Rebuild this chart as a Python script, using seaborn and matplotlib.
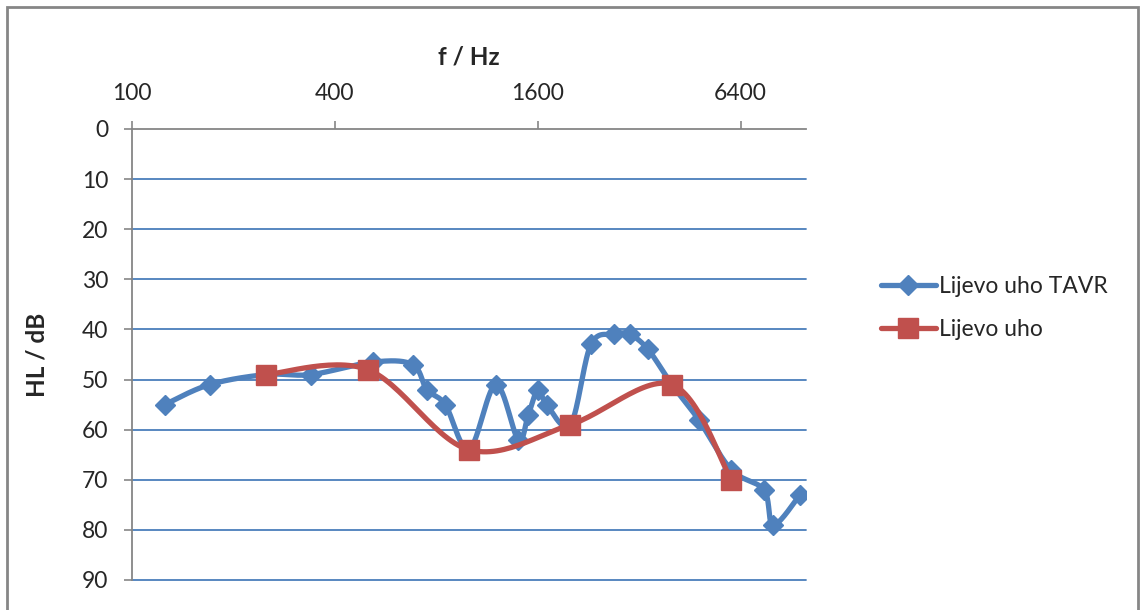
# Audiogram: left ear, TAVR vs. baseline
import numpy as np
import matplotlib
matplotlib.use('Agg')
import matplotlib.pyplot as plt
from matplotlib.lines import Line2D
from matplotlib.patches import Rectangle
import seaborn as sns

# Data
tavr_freq = [125, 170, 250, 340, 520, 680, 750, 850, 1000, 1200, 1400, 1500, 1600, 1700,
             2000, 2300, 2700, 3000, 3400, 4000, 4800, 6000, 7500, 8000, 9600]
tavr_hl = [55, 51, 49, 49, 46.5, 47, 52, 55, 64, 51, 62, 57, 52, 55,
           59, 43, 41, 41, 44, 51, 58, 68, 72, 79, 73]
base_freq = [250, 500, 1000, 2000, 4000, 6000]
base_hl = [49, 48, 64, 59, 51, 70]
x_ticks = [100, 400, 1600, 6400]
y_ticks = list(range(0, 100, 10))
series_names = ['Lijevo uho TAVR', 'Lijevo uho']

BLUE = '#4F81BD'
RED = '#C0504D'
GRID = '#4A7EBB'
GRAY = '#868686'

sns.set_style('white')
plt.rcParams['font.family'] = ['Lato', 'DejaVu Sans']


def smooth(freq, hl, n=30):
    # Excel-style smoothed line: Catmull-Rom bezier in screen-like units
    u = np.log2(np.asarray(freq, float) / 100) * 101.5
    v = np.asarray(hl, float) * 5.01
    pts = np.column_stack([u, v])
    out = []
    for i in range(len(pts) - 1):
        p0 = pts[max(i - 1, 0)]
        p1 = pts[i]
        p2 = pts[i + 1]
        p3 = pts[min(i + 2, len(pts) - 1)]
        c1 = p1 + (p2 - p0) / 6
        c2 = p2 - (p3 - p1) / 6
        t = np.linspace(0, 1, n)[:, None]
        seg = ((1 - t) ** 3) * p1 + 3 * ((1 - t) ** 2) * t * c1 + 3 * (1 - t) * t ** 2 * c2 + t ** 3 * p2
        out.append(seg if i == 0 else seg[1:])
    c = np.vstack(out)
    return 100 * 2 ** (c[:, 0] / 101.5), c[:, 1] / 5.01


fig = plt.figure(figsize=(11.41, 6.10), dpi=100)
ax = fig.add_axes([132 / 1141, 1 - 580 / 610, 674 / 1141, 451 / 610])

sx, sy = smooth(tavr_freq, tavr_hl)
sns.lineplot(x=sx, y=sy, sort=False, color=BLUE, lw=3.8, ax=ax, zorder=3)
ax.plot(tavr_freq, tavr_hl, ls='none', marker='D', ms=10, color=BLUE, zorder=4)

sx, sy = smooth(base_freq, base_hl)
sns.lineplot(x=sx, y=sy, sort=False, color=RED, lw=3.8, ax=ax, zorder=5)
ax.plot(base_freq, base_hl, ls='none', marker='s', ms=14, color=RED, zorder=6)

ax.set_xscale('log', base=2)
ax.set_xlim(100, 10000)
ax.set_ylim(90, 0)
ax.xaxis.tick_top()
ax.set_xticks(x_ticks)
ax.set_xticklabels([str(t) for t in x_ticks])
ax.xaxis.set_minor_locator(matplotlib.ticker.NullLocator())
ax.set_yticks(y_ticks)
ax.set_yticklabels([str(t) for t in y_ticks])
ax.tick_params(axis='x', top=True, bottom=False, length=6, width=1.2, color=GRAY,
               pad=12, labelsize=16.5)
ax.tick_params(axis='y', left=True, length=6, width=1.2, color=GRAY, pad=11, labelsize=16.5)

for y in y_ticks[1:]:
    ax.axhline(y, color=GRID, lw=1.3, zorder=1, clip_on=False)

for s in ['bottom', 'right']:
    ax.spines[s].set_visible(False)
for s in ['top', 'left']:
    ax.spines[s].set_color(GRAY)
    ax.spines[s].set_linewidth(1.3)
    ax.spines[s].set_zorder(2)

ax.set_xlabel('')
ax.set_ylabel('')
fig.text(469 / 1141, 1 - 57 / 610, 'f / Hz', ha='center', va='center', fontsize=17.5,
         fontweight='bold')
fig.text(37 / 1141, 1 - 355 / 610, 'HL / dB', ha='center', va='center', rotation=90,
         fontsize=17.5, fontweight='bold')

handles = [Line2D([], [], color=BLUE, lw=3.8, marker='D', ms=10),
           Line2D([], [], color=RED, lw=3.8, marker='s', ms=14)]
fig.legend(handles, series_names, loc='center left', bbox_to_anchor=(860 / 1141, 1 - 308 / 610),
           frameon=False, fontsize=16.5, handlelength=2.4, handletextpad=0.15, labelspacing=1.0)

fig.patches.append(Rectangle((6.5 / 1141, -0.2), 1131 / 1141, 1.2 - 6.5 / 610,
                             transform=fig.transFigure, fill=False, ec=GRAY, lw=2))

fig.savefig('out.png', dpi=100)
